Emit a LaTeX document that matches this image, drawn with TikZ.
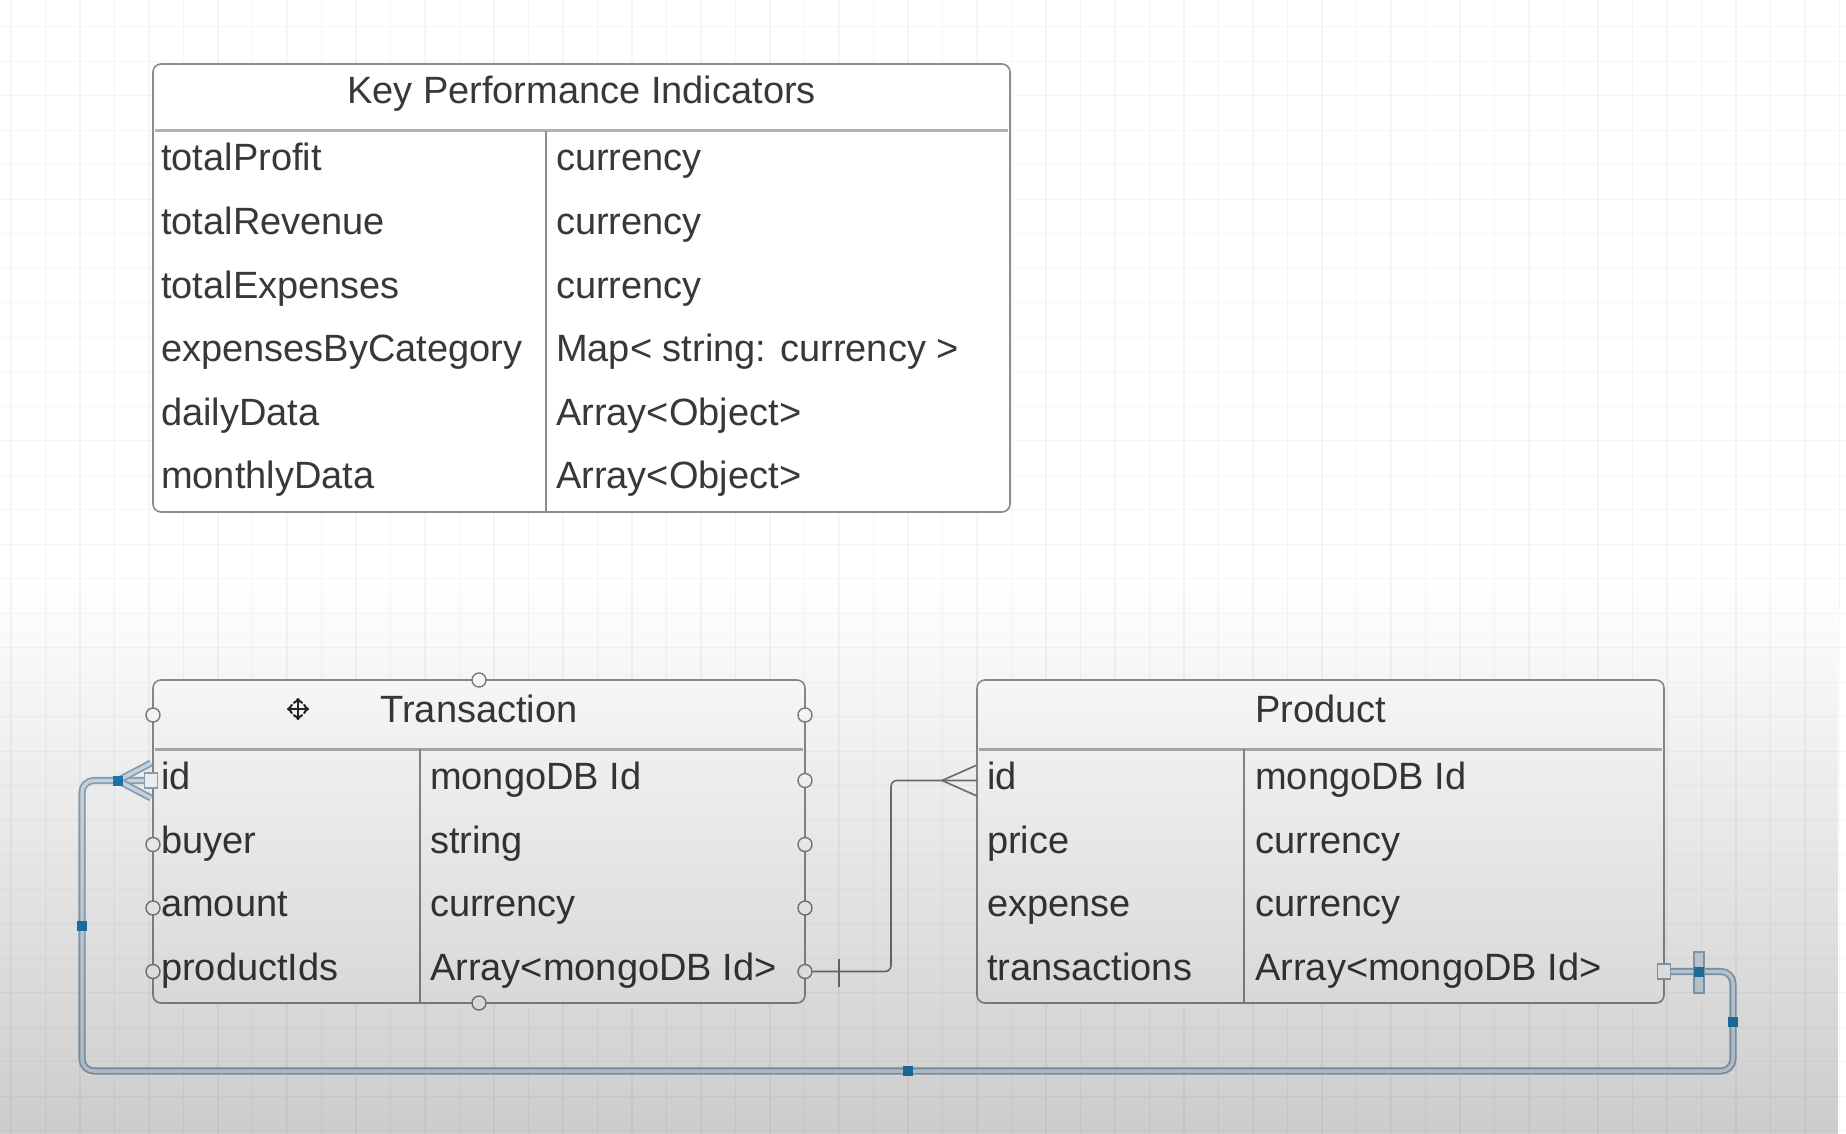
\documentclass[tikz,border=0pt]{standalone}
\usepackage{fontspec}
\setmainfont{Liberation Sans}
\usetikzlibrary{fadings}
\definecolor{selline}{HTML}{8EA9C1}
\definecolor{selfill}{HTML}{D6E1EB}
\definecolor{handleblue}{HTML}{1F7CB4}
\tikzfading[name=dimdown, top color=transparent!100, bottom color=transparent!0]

\begin{document}
\begin{tikzpicture}[x=1pt, y=-1pt,
	gridline/.style={draw=black!4, line width=1.3pt},
	entity/.style={draw=black!45, line width=1.6pt, rounded corners=8pt, fill=white, inner sep=0pt},
	tableline/.style={draw=black!45, line width=1.6pt},
	headsep/.style={draw=black!30, line width=3pt},
	title/.style={anchor=base, text=black!78, inner sep=0pt, font=\fontsize{38}{46}\selectfont},
	field/.style={anchor=base west, text=black!78, inner sep=0pt, font=\fontsize{38}{46}\selectfont},
	port/.style={circle, draw=black!50, fill=white, line width=1.4pt, inner sep=0pt, minimum size=14pt},
	sqport/.style={rectangle, draw=selline, fill=white, line width=1.4pt, inner sep=0pt, minimum width=13pt, minimum height=15pt},
	rel/.style={draw=black!55, line width=1.6pt},
	selrel/.style={draw=selline, double=selfill, line width=1.8pt, double distance=3.5pt, rounded corners=12pt},
	handle/.style={rectangle, fill=handleblue, inner sep=0pt, minimum size=10pt}]
	\useasboundingbox (0,0) rectangle (1846,1134);
	\fill[white] (0,0) rectangle (1846,1134);
	\foreach \gx in {0,...,53}
		\draw[gridline] ({11+34.5*\gx},0) -- ({11+34.5*\gx},1134);
	\foreach \gy in {0,...,32}
		\draw[gridline] (0,{26.7+34.5*\gy}) -- (1846,{26.7+34.5*\gy});

	% KPI table
	\node[entity, minimum width=857pt, minimum height=448pt] (kpi) at (581.5,288) {};
	\draw[headsep] (155,131) -- (1008,131);
	\draw[tableline] (546,131) -- (546,512);
	\node[title] (kpititle) at (581.5,104) {Key Performance Indicators};
	\node[field] (kf1) at (161,171) {totalProfit};
	\node[field] (kt1) at (556,171) {currency};
	\node[field] (kf2) at (161,234.5) {totalRevenue};
	\node[field] (kt2) at (556,234.5) {currency};
	\node[field] (kf3) at (161,298) {totalExpenses};
	\node[field] (kt3) at (556,298) {currency};
	\node[field] (kf4) at (161,361.5) {expensesByCategory};
	\node[field] (kt4) at (556,361.5) {Map< string: currency >};
	\node[field] (kf5) at (161,425) {dailyData};
	\node[field] (kt5) at (556,425) {Array<Object>};
	\node[field] (kf6) at (161,488.5) {monthlyData};
	\node[field] (kt6) at (556,488.5) {Array<Object>};

	% Transaction table
	\node[entity, minimum width=652pt, minimum height=323pt] (trans) at (479,841.5) {};
	\draw[headsep] (155,749) -- (803,749);
	\draw[tableline] (420,749) -- (420,1003);
	\node[title] (transtitle) at (479,722) {Transaction};
	\draw[<->, line width=2.5pt, black!85] (287,709) -- (309,709);
	\draw[<->, line width=2.5pt, black!85] (298,698) -- (298,720);
	\node[field] (tf1) at (161,789) {id};
	\node[field] (tt1) at (430,789) {mongoDB Id};
	\node[field] (tf2) at (161,853) {buyer};
	\node[field] (tt2) at (430,853) {string};
	\node[field] (tf3) at (161,916.5) {amount};
	\node[field] (tt3) at (430,916.5) {currency};
	\node[field] (tf4) at (161,980) {productIds};
	\node[field] (tt4) at (430,980) {Array<mongoDB Id>};

	% Product table
	\node[entity, minimum width=687pt, minimum height=323pt] (prod) at (1320.5,841.5) {};
	\draw[headsep] (979,749) -- (1662,749);
	\draw[tableline] (1244,749) -- (1244,1003);
	\node[title] (prodtitle) at (1320.5,722) {Product};
	\node[field] (pf1) at (987,789) {id};
	\node[field] (pt1) at (1255,789) {mongoDB Id};
	\node[field] (pf2) at (987,853) {price};
	\node[field] (pt2) at (1255,853) {currency};
	\node[field] (pf3) at (987,916.5) {expense};
	\node[field] (pt3) at (1255,916.5) {currency};
	\node[field] (pf4) at (987,980) {transactions};
	\node[field] (pt4) at (1255,980) {Array<mongoDB Id>};

	% connection points
	\node[port] (tpn) at (479,680) {};
	\node[port] (tps) at (479,1003) {};
	\node[port] (tpw0) at (153,715) {};
	\node[port] (tpe0) at (805,715) {};
	\node[port] (tpe1) at (805,780.5) {};
	\node[port] (tpe2) at (805,844.5) {};
	\node[port] (tpe3) at (805,908) {};
	\node[port] (tpe4) at (805,971.5) {};
	\node[port] (tpw2) at (153,844.5) {};
	\node[port] (tpw3) at (153,908) {};
	\node[port] (tpw4) at (153,971.5) {};
	\coordinate (pidend) at (977,780.5);

	% productIds -> Product id
	\draw[rel, rounded corners=6pt] (tpe4.east) -| (891,876) |- (pidend);
	\draw[rel] (942,780.5) -- (977,765) (942,780.5) -- (977,796);
	\draw[rel] (839,959) -- (839,987);

	% transactions -> Transaction id (selected)
	\draw[selrel] (1664,971.5) -| (1733,1071) -| (82,780.5) -- (151,780.5);
	\draw[selrel] (118,780.5) -- (151,763) (118,780.5) -- (151,798);
	\node[sqport] (tidend) at (151,780.5) {};
	\node[sqport] (pend) at (1664,971.5) {};
	\draw[draw=selline, fill=selfill, line width=1.4pt] (1694,952) rectangle (1704,993);
	\node[handle] (h1) at (1699,971.5) {};
	\node[handle] (h2) at (1733,1022) {};
	\node[handle] (h3) at (908,1071) {};
	\node[handle] (h4) at (82,926) {};
	\node[handle] (h5) at (118,780.5) {};

	% dimming towards the bottom
	\fill[black, fill opacity=0.2, path fading=dimdown] (0,580) rectangle (1846,1134);
\end{tikzpicture}
\end{document}
